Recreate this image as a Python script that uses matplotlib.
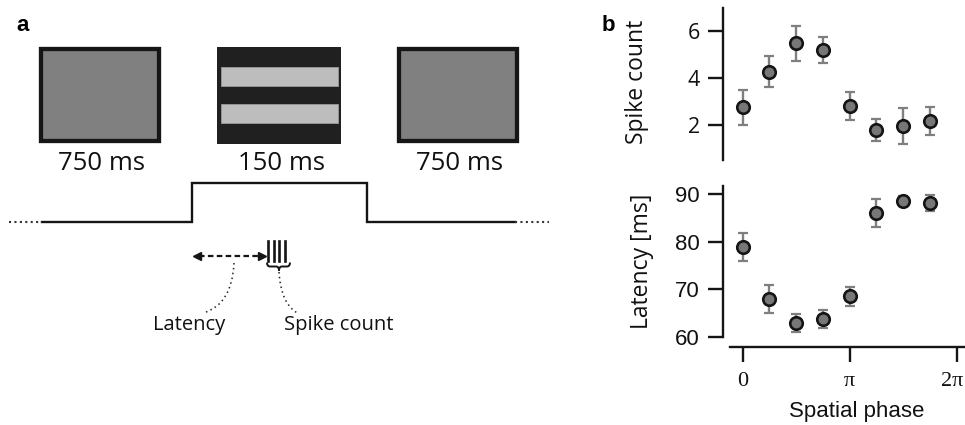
import numpy as np
import matplotlib
matplotlib.use('Agg')
import matplotlib.pyplot as plt
import matplotlib.transforms as mtransforms
from matplotlib.patches import Rectangle, PathPatch
from matplotlib.path import Path

# Panel b: tuning to spatial phase
phase = [0, np.pi / 4, np.pi / 2, 3 * np.pi / 4, np.pi, 5 * np.pi / 4, 3 * np.pi / 2, 7 * np.pi / 4]
spike_mean = [2.75, 4.27, 5.48, 5.19, 2.81, 1.79, 1.96, 2.17]
spike_err = [0.75, 0.67, 0.75, 0.55, 0.60, 0.48, 0.78, 0.58]
latency_mean = [78.9, 67.9, 62.9, 63.7, 68.5, 86.0, 88.6, 88.1]
latency_err = [3.0, 3.0, 1.8, 1.9, 2.0, 2.95, 1.0, 1.7]

phase_ticks = [0, np.pi, 2 * np.pi]
phase_ticklabels = ['0', 'π', '2π']
spike_ticks = [2, 4, 6]
latency_ticks = [60, 70, 80, 90]

# Panel a: stimulus sequence labels
frame_labels = ['750 ms', '150 ms', '750 ms']

plt.rcParams['font.family'] = ['Open Sans', 'DejaVu Sans']

W, H = 965, 425
fig = plt.figure(figsize=(W / 100, H / 100), dpi=100)

# ---- panel a: schematic, drawn in pixel coordinates ----
ax0 = fig.add_axes([0, 0, 1, 1])
ax0.set_xlim(0, W)
ax0.set_ylim(H, 0)
ax0.axis('off')

ax0.text(22.5, 25.5, 'a', fontsize=16, fontweight='bold', family='Liberation Sans',
         ha='center', va='center')

frame_x = [(39, 161), (217, 341), (397, 519)]
frame_y = (46.5, 143.5)
border = 4.3
for i, (x0, x1) in enumerate(frame_x):
    y0, y1 = frame_y
    if i == 1:
        ax0.add_patch(Rectangle((x0, y0), x1 - x0, y1 - y0, facecolor='#202020',
                                edgecolor='none'))
        for by0, by1 in [(66.7, 86), (104.3, 123.3)]:
            ax0.add_patch(Rectangle((221.4, by0), 337.9 - 221.4, by1 - by0,
                                    facecolor='#bdbdbd', edgecolor='#9a9a9a', linewidth=0.6))
    else:
        ax0.add_patch(Rectangle((x0 + border / 2, y0 + border / 2), x1 - x0 - border,
                                y1 - y0 - border, facecolor='#808080',
                                edgecolor='#161616', linewidth=border * 0.72))
    ax0.text((x0 + x1) / 2 + 2, 163, frame_labels[i], fontsize=18.5,
             ha='center', va='center', color='#111111')

# stimulus time course
y_lo, y_hi = 221.5, 183.3
ax0.plot([42, 191.7, 191.7, 366.8, 366.8, 515], [y_lo, y_lo, y_hi, y_hi, y_lo, y_lo],
         color='#151515', lw=1.7, solid_joinstyle='miter')
for xs in [(9, 42), (515, 549)]:
    ax0.plot(xs, [y_lo, y_lo], color='#333333', lw=1.5, linestyle=(0, (1, 1.6)))

# latency arrow
ax0.plot([199, 260], [256, 256], color='#151515', lw=1.6, linestyle=(0, (2.5, 1.5)))
ax0.plot([197], [256], marker='<', ms=6, color='#151515')
ax0.plot([262], [256], marker='>', ms=6, color='#151515')

# spikes
for sx in [268, 273.5, 279, 284.5]:
    ax0.plot([sx, sx], [241, 261], color='#151515', lw=1.9)

# brace under the spikes
bx0, bx1, by, bh, q = 267, 290, 262.5, 8, 3
bm = 279
verts = [(bx0, by), (bx0, by + bh / 2), (bx0 + q, by + bh / 2),
         (bm - q, by + bh / 2),
         (bm, by + bh / 2), (bm, by + bh),
         (bm, by + bh / 2), (bm + q, by + bh / 2),
         (bx1 - q, by + bh / 2),
         (bx1, by + bh / 2), (bx1, by)]
codes = [Path.MOVETO, Path.CURVE3, Path.CURVE3, Path.LINETO,
         Path.CURVE3, Path.CURVE3, Path.CURVE3, Path.CURVE3,
         Path.LINETO, Path.CURVE3, Path.CURVE3]
ax0.add_patch(PathPatch(Path(verts, codes), facecolor='none', edgecolor='#151515', lw=1.4))

# dotted leader curves
for p0, c, p1 in [((234, 263), (232, 305), (203, 313)),
                  ((279, 272), (281, 305), (299, 314))]:
    pp = PathPatch(Path([p0, c, p1], [Path.MOVETO, Path.CURVE3, Path.CURVE3]),
                   facecolor='none', edgecolor='#222222', lw=1.1, linestyle=(0, (1, 2.2)))
    ax0.add_patch(pp)

ax0.text(189.6, 325, 'Latency', fontsize=14.5, ha='center', va='center', color='#111111')
ax0.text(338.5, 325, 'Spike count', fontsize=14.5, ha='center', va='center', color='#111111')

ax0.text(608.3, 25, 'b', fontsize=16, fontweight='bold', family='Liberation Sans',
         ha='center', va='center')

# ---- panel b: data axes ----
xlim = (-0.569, 6.527)
ax1 = fig.add_axes([0.7495, 0.6229, 0.2505, 0.3594])
ax2 = fig.add_axes([0.7495, 0.1842, 0.2505, 0.3784])

for ax, mean, err in [(ax1, spike_mean, spike_err), (ax2, latency_mean, latency_err)]:
    ax.errorbar(phase, mean, yerr=err, fmt='none', ecolor='#7f7f7f', elinewidth=1.7,
                capsize=3.8, capthick=1.6, zorder=2)
    ax.plot(phase, mean, 'o', ms=9, mfc='#777777', mec='#151515', mew=1.9,
            zorder=3, clip_on=False)
    ax.set_xlim(*xlim)
    ax.patch.set_visible(False)
    for side in ['top', 'right']:
        ax.spines[side].set_visible(False)
    for side in ['left', 'bottom']:
        ax.spines[side].set_linewidth(1.7)
        ax.spines[side].set_color('#151515')
    ax.tick_params(direction='out', length=11, width=1.7, color='#151515', pad=6)

# spike count
ax1.set_ylim(0.5, 7)
ax1.spines['bottom'].set_visible(False)
ax1.tick_params(axis='x', bottom=False, labelbottom=False)
ax1.set_yticks(spike_ticks)
ax1.set_yticklabels([str(t) for t in spike_ticks], fontsize=15.5, color='#111111')
ax1.set_ylabel('Spike count', fontsize=16.5, color='#111111')
ax1.yaxis.set_label_coords(-0.358, 0.5155)
ax1.yaxis.label.set_va('center')

# latency
ax2.set_ylim(57.9, 91.75)
ax2.spines['left'].set_bounds(60, 91.75)
ax2.spines['bottom'].set_bounds(-0.372, xlim[1])
ax2.set_yticks(latency_ticks)
ax2.set_yticklabels([str(t) for t in latency_ticks], fontsize=16,
                    family='Liberation Sans', color='#111111')
ax2.set_xticks(phase_ticks)
ax2.set_xticklabels(phase_ticklabels, fontsize=16, family='Liberation Serif',
                    color='#111111')
ax2.tick_params(axis='x', pad=7)
# keep the last tick label inside the canvas
last = ax2.get_xticklabels()[-1]
last.set_transform(last.get_transform() +
                   mtransforms.ScaledTranslation(-5 / 100, 0, fig.dpi_scale_trans))
ax2.set_ylabel('Latency [ms]', fontsize=16.5, color='#111111')
ax2.yaxis.set_label_coords(-0.3376, 0.533)
ax2.yaxis.label.set_va('center')
ax2.set_xlabel('Spatial phase', fontsize=16, family='Liberation Sans', color='#111111')
ax2.xaxis.set_label_coords(0.552, -0.404)
ax2.xaxis.label.set_va('center')

plt.savefig('out.png', dpi=100)
plt.close()
